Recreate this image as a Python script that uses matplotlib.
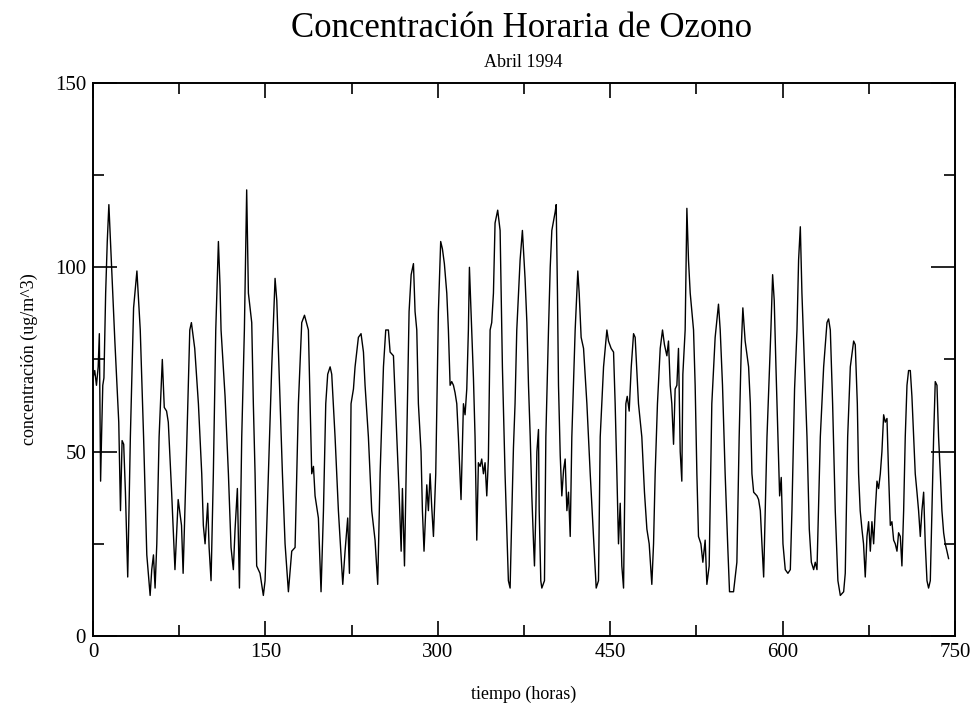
import matplotlib
matplotlib.use("Agg")
import matplotlib.pyplot as plt
from matplotlib.ticker import MultipleLocator

# hourly ozone readings (hour, ug/m^3)
horas = [0, 1.5, 3, 4.5, 5.5, 6.6, 7.5, 8.5, 9.5, 11, 12.4, 13.8, 16.7, 19, 21, 22.4,
         23.9, 25.3, 26.7, 28.2, 30.2, 32.5, 35.3, 38.2, 41.1, 44, 46.8, 49.7, 51.1,
         52.6, 54, 55.5, 57.5, 60.3, 62, 64, 65.5, 68.4, 71.3, 74.1, 77, 78.4, 81.3,
         84.2, 85.6, 88.5, 91.7, 93.1, 94.6, 96, 97.5, 99.8, 101, 102.7, 104.7, 106.8,
         109.1, 110.5, 111.4, 114.9, 117.8, 120.1, 122.1, 123.6, 125.6, 127.4, 129.4,
         131.7, 133.7, 135.2, 138.1, 139.5, 141, 142.4, 145.3, 148.2, 149.7, 152.6,
         155.5, 158.4, 159.9, 162.8, 164.8, 167.1, 170, 172.9, 175.8, 178.7, 181.6,
         184, 187.4, 188.9, 190.3, 191.8, 193.2, 196.1, 198.4, 200.5, 202.5, 204.2,
         206.3, 207.7, 210.6, 213.5, 215.8, 217.3, 219.3, 221.6, 223.1, 224.5, 226.6,
         228, 230.9, 233.2, 235.3, 236.7, 239.6, 242.5, 245.4, 247.7, 249.8, 252.7,
         254.7, 257, 258.5, 261.4, 264.3, 266.3, 268.1, 269.2, 271, 273, 275, 276.8,
         278.8, 280.2, 281.7, 283.1, 285.4, 286.6, 288, 290.4, 291.8, 293.3, 294.7,
         296.2, 298.2, 300.5, 302.5, 304, 305.7, 307.8, 309.2, 310.7, 312.1, 313.6,
         315, 316.5, 317.9, 320.2, 322.3, 323.7, 325.2, 326.6, 327.5, 329.5, 331,
         332.4, 333.9, 335.3, 336.8, 338.2, 339.7, 341.1, 342.6, 344, 345.5, 346.9,
         348.4, 349.8, 352.1, 354.2, 356.2, 358.5, 361.4, 362.9, 364.3, 365.8, 367.2,
         368.7, 371.6, 373.6, 375.9, 377.5, 378.9, 380.4, 381.8, 383.3, 384.1, 385.3,
         386.2, 387.6, 388.2, 389.6, 390.5, 392.8, 394, 396.3, 397.8, 399.2, 402.1,
         403, 404.1, 405, 406.5, 407.9, 409.4, 410.8, 412.3, 413.7, 415.2, 416.6,
         419.5, 421.8, 423, 424.7, 426.8, 429.7, 432.6, 435.5, 437.8, 439.8, 441.3,
         444.2, 447.1, 448.5, 450.8, 452.9, 454.3, 455.8, 457.2, 458.7, 460.1, 461.6,
         463.6, 464.8, 466.5, 468.3, 470.3, 471.7, 474.6, 477.5, 479.8, 481.9, 483.9,
         486.2, 487.7, 489.1, 491.1, 493.5, 495.5, 497.2, 499.3, 500.7, 502.2, 503.6,
         505.1, 506.5, 508, 509.4, 510.9, 512.3, 513.2, 515.2, 516.7, 518.1, 519.6,
         522.5, 523.9, 525.4, 526.8, 528.9, 530.6, 532.6, 534.1, 536.1, 538.4, 541.3,
         544.2, 545.7, 547.7, 550, 552.3, 553.8, 557.3, 560.2, 562.2, 564, 565.4,
         567.4, 570.4, 571.9, 573.3, 574.8, 577.7, 579.1, 580.6, 582, 583.5, 584.9,
         586.4, 588.4, 589.8, 591.3, 592.7, 594.2, 595.9, 597.4, 598.8, 600.3, 602.3,
         604.6, 606.7, 608.1, 610.4, 612.5, 613.9, 615.4, 616.8, 619.1, 621.2, 623.2,
         625, 627, 628.4, 629.9, 632.8, 635.7, 638.6, 640, 641.5, 643.5, 645.8, 648.1,
         650.2, 653.1, 654.5, 656.6, 658.9, 661.8, 663.2, 665, 666.1, 667.5, 669,
         670.4, 671.9, 673.4, 674.8, 676.3, 677.7, 679.2, 680.6, 682.1, 683.5, 685,
         686.4, 687.9, 689.3, 690.8, 692.2, 693.7, 695.1, 696.6, 698, 699.5, 700.9,
         702.4, 703.8, 705.3, 706.7, 708.2, 709.6, 711.1, 712.5, 714, 715.4, 716.9,
         718.3, 719.8, 721.2, 722.7, 724.1, 725.6, 727, 728.5, 729.9, 731.4, 732.8,
         734.3, 735.7, 737.2, 738.6, 740.1, 741.5, 743, 744.4]
ozono = [70, 72, 68, 73, 82, 42, 55, 68, 70, 93, 107, 117, 96, 80, 67, 58,
         34, 53, 52, 39, 16, 54, 89, 99, 83, 54, 22, 11, 18,
         22, 13, 25, 54, 75, 62, 61, 58, 39, 18, 37, 30, 17, 49,
         83, 85, 78, 63, 54, 44, 30, 25, 36, 24, 15, 44, 83,
         107, 95, 83, 65, 44, 24, 18, 29, 40, 13, 54,
         83, 121, 93, 85, 63, 44, 19, 17, 11, 15, 44,
         73, 97, 91, 63, 44, 25, 12, 23, 24, 63, 85,
         87, 83, 63, 44, 46, 38, 32, 12, 34, 63, 71,
         73, 71, 54, 34, 22, 14, 23, 32, 17, 63, 67,
         73, 81, 82, 77, 68, 54, 34, 26, 14, 44, 73,
         83, 83, 77, 76, 54, 39, 23, 40, 19, 54, 88, 98,
         101, 88, 83, 63, 50, 34, 23, 41, 34, 44, 35,
         27, 44, 88, 107, 105, 101, 93, 83, 68, 69, 68,
         66, 63, 54, 37, 63, 60, 67, 83, 100, 83, 70,
         54, 26, 47, 46, 48, 44, 47, 38, 48, 83, 85,
         93, 112, 115.5, 110, 73, 44, 15, 13, 32, 51, 63,
         83, 102, 110, 97, 85, 68, 54, 38, 25, 19, 34,
         50, 56, 34, 15, 13, 15, 54, 83, 100, 110, 115,
         117, 93, 68, 49, 38, 45, 48, 34, 39, 27, 54,
         83, 99, 93, 81, 78, 63, 44, 27, 13, 15, 54,
         73, 83, 80, 78, 77, 63, 44, 25, 36, 19, 13,
         63, 65, 61, 73, 82, 81, 63, 54, 39, 29, 25,
         14, 25, 44, 63, 78, 83, 79, 76, 80, 68, 63,
         52, 67, 68, 78, 50, 42, 71, 83, 116, 102, 93,
         83, 68, 44, 27, 25, 20, 26, 14, 19, 63, 81,
         90, 83, 68, 44, 24, 12, 12, 20, 54, 78, 89,
         80, 73, 63, 44, 39, 38, 37, 34, 25, 16, 34,
         54, 71, 83, 98, 91, 73, 54, 38, 43, 25, 18,
         17, 18, 34, 67, 83, 102, 111, 93, 73, 54, 29,
         20, 18, 20, 18, 54, 73, 85, 86, 83, 63, 34, 15,
         11, 12, 17, 54, 73, 80, 79, 63, 44, 34, 29,
         25, 16, 27, 31, 23, 31, 25, 34, 42, 40, 44,
         50, 60, 58, 59, 44, 30, 31, 26, 25, 23, 28,
         27, 19, 34, 54, 68, 72, 72, 65, 54, 44, 39,
         34, 27, 34, 39, 25, 15, 13, 15, 34, 54, 69,
         68, 54, 44, 34, 28, 25, 23, 21]

plt.rcParams['font.family'] = 'Liberation Serif'

fig = plt.figure(figsize=(9.77, 7.11), dpi=100)
ax = fig.add_axes([0.0952, 0.1055, 0.8823, 0.7778])

ax.plot(horas, ozono, color='black', linewidth=1.0)

ax.set_xlim(0, 750)
ax.set_ylim(0, 150)
ax.xaxis.set_major_locator(MultipleLocator(150))
ax.xaxis.set_minor_locator(MultipleLocator(75))
ax.yaxis.set_major_locator(MultipleLocator(50))
ax.yaxis.set_minor_locator(MultipleLocator(25))
ax.tick_params(which='both', direction='in', top=True, right=True,
               labelsize=15, width=1.2, pad=5)
ax.tick_params(which='major', axis='y', length=17)
ax.tick_params(which='minor', axis='y', length=8)
ax.tick_params(which='major', axis='x', length=11)
ax.tick_params(which='minor', axis='x', length=8)
for s in ax.spines.values():
    s.set_linewidth(1.4)

ax.set_xlabel('tiempo (horas)', fontsize=13, labelpad=17)
ax.set_ylabel('concentración (ug/m^3)', fontsize=13, labelpad=12)

fig.text(0.534, 0.960, 'Concentración Horaria de Ozono', fontsize=25,
         ha='center', va='center')
fig.text(0.536, 0.912, 'Abril 1994', fontsize=13, ha='center', va='center')

fig.savefig('out.png', dpi=100)
